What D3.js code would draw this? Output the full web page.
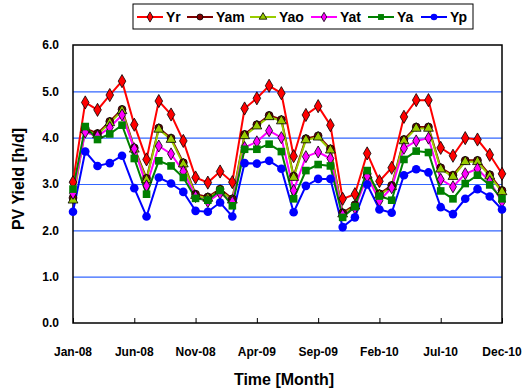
<!DOCTYPE html>
<html>
<head>
<meta charset="utf-8">
<script src="https://cdn.jsdelivr.net/npm/d3@7"></script>
<style>
  body { margin: 0; background: #fff; }
  text { font-family: Arial, "Liberation Sans", sans-serif; font-weight: bold; }
</style>
</head>
<body>
<svg id="chart" width="531" height="390"></svg>
<script>
// months Jan-08 .. Dec-10
const fmt = d3.timeFormat("%b-%y");
const months = d3.range(36).map(i => fmt(new Date(2008, i, 1)));
const tickLabels = ["Jan-08", "Jun-08", "Nov-08", "Apr-09", "Sep-09", "Feb-10", "Jul-10", "Dec-10"];
const yTicks = [0, 1, 2, 3, 4, 5, 6];

const Yr = [3.04, 4.76, 4.60, 4.92, 5.22, 4.28, 3.53, 4.79, 4.50, 3.93, 3.14, 3.03,
  3.27, 3.04, 4.63, 4.85, 5.12, 4.96, 3.60, 4.49, 4.68, 4.27, 2.68, 2.78,
  3.66, 3.06, 3.35, 4.45, 4.81, 4.81, 3.78, 3.61, 3.99, 3.96, 3.63, 3.22];
const Yam = [2.70, 4.20, 4.09, 4.35, 4.61, 3.78, 3.12, 4.21, 3.99, 3.46, 2.78, 2.72,
  2.89, 2.68, 4.07, 4.28, 4.48, 4.39, 3.17, 3.98, 4.04, 3.76, 2.38, 2.55,
  3.22, 2.79, 2.97, 3.96, 4.23, 4.23, 3.35, 3.19, 3.51, 3.51, 3.20, 2.86];
const Yao = [2.65, 4.17, 4.06, 4.32, 4.58, 3.75, 3.09, 4.18, 3.96, 3.43, 2.75, 2.69,
  2.86, 2.65, 4.04, 4.25, 4.45, 4.36, 3.14, 3.95, 4.01, 3.73, 2.35, 2.52,
  3.19, 2.76, 2.94, 3.93, 4.20, 4.20, 3.32, 3.16, 3.48, 3.48, 3.17, 2.83];
const Yat = [2.80, 4.12, 4.03, 4.22, 4.49, 3.76, 2.96, 3.82, 3.65, 3.27, 2.73, 2.62,
  2.80, 2.61, 3.79, 3.91, 4.15, 4.00, 2.86, 3.59, 3.69, 3.55, 2.33, 2.48,
  3.17, 2.64, 2.92, 3.77, 3.93, 3.99, 3.10, 2.94, 3.22, 3.33, 3.05, 2.62];
const Ya = [2.89, 4.24, 3.96, 4.08, 4.27, 3.55, 2.78, 3.50, 3.39, 3.14, 2.69, 2.65,
  2.86, 2.53, 3.75, 3.75, 3.86, 3.70, 2.68, 3.29, 3.42, 3.39, 2.28, 2.51,
  3.29, 2.74, 2.65, 3.53, 3.71, 3.68, 2.85, 2.68, 3.01, 3.19, 2.98, 2.68];
const Yp = [2.40, 3.70, 3.39, 3.45, 3.61, 2.91, 2.30, 3.14, 3.01, 2.83, 2.42, 2.40,
  2.60, 2.30, 3.45, 3.44, 3.50, 3.33, 2.39, 2.96, 3.11, 3.11, 2.07, 2.28,
  2.99, 2.45, 2.38, 3.19, 3.32, 3.25, 2.50, 2.35, 2.68, 2.89, 2.73, 2.45];

const series = [
  { name: "Yr", values: Yr, line: "#ff0000", fill: "#ff0000", stroke: "#000", shape: d3.symbolDiamond, size: 50 },
  { name: "Yam", values: Yam, line: "#800000", fill: "#800000", stroke: "#000", shape: d3.symbolCircle, size: 48 },
  { name: "Yao", values: Yao, line: "#99cc00", fill: "#99cc00", stroke: "#000", shape: d3.symbolTriangle, size: 42 },
  { name: "Yat", values: Yat, line: "#ff00ff", fill: "#ff00ff", stroke: "#000", shape: d3.symbolDiamond, size: 42 },
  { name: "Ya", values: Ya, line: "#008000", fill: "#008000", stroke: "none", shape: d3.symbolSquare, size: 58 },
  { name: "Yp", values: Yp, line: "#0000ff", fill: "#0000ff", stroke: "none", shape: d3.symbolCircle, size: 58 }
];

const svg = d3.select("#chart");
const pLeft = 73, pRight = 502, pTop = 45, pBottom = 323;

const x = d3.scalePoint().domain(months).range([pLeft, pRight]);
const y = d3.scaleLinear().domain([0, 6]).range([pBottom, pTop]);

// gridlines
svg.append("g")
  .attr("transform", "translate(" + pLeft + ",0)")
  .call(d3.axisLeft(y).tickValues(yTicks.slice(1, -1)).tickSize(-(pRight - pLeft)).tickFormat(""))
  .call(g => g.select(".domain").remove())
  .selectAll("line").attr("stroke", "#3366ff").attr("stroke-width", 1.2);

// y labels
svg.append("g")
  .attr("transform", "translate(" + pLeft + ",0)")
  .call(d3.axisLeft(y).tickValues(yTicks).tickSize(0).tickPadding(14).tickFormat(d3.format(".1f")))
  .call(g => g.select(".domain").remove())
  .selectAll("text").attr("font-size", 12).attr("fill", "#000").style("font-weight", "bold");

// plot frame
svg.append("rect")
  .attr("x", pLeft).attr("y", pTop)
  .attr("width", pRight - pLeft).attr("height", pBottom - pTop)
  .attr("fill", "none").attr("stroke", "#000").attr("stroke-width", 1.5);

// x axis
const xAxis = svg.append("g")
  .attr("transform", "translate(0," + pBottom + ")")
  .call(d3.axisTop(x).tickValues(tickLabels).tickSize(5).tickFormat(""));
xAxis.select(".domain").remove();
xAxis.selectAll("line").attr("stroke", "#000");

svg.append("g").selectAll("text")
  .data(tickLabels)
  .enter().append("text")
  .attr("x", d => x(d))
  .attr("y", 356)
  .attr("text-anchor", "middle")
  .attr("font-size", 12)
  .text(d => d);

// lines & markers
const line = d3.line().x((d, i) => x(months[i])).y(d => y(d));

series.forEach(s => {
  svg.append("path")
    .datum(s.values)
    .attr("fill", "none")
    .attr("stroke", s.line)
    .attr("stroke-width", 2)
    .attr("d", line);
});
series.forEach(s => {
  svg.append("g").selectAll("path")
    .data(s.values)
    .enter().append("path")
    .attr("transform", (d, i) => "translate(" + x(months[i]) + "," + y(d) + ")")
    .attr("d", d3.symbol().type(s.shape).size(s.size))
    .attr("fill", s.fill)
    .attr("stroke", s.stroke)
    .attr("stroke-width", 0.8);
});

// axis titles
svg.append("text")
  .attr("x", 284).attr("y", 385)
  .attr("text-anchor", "middle")
  .attr("font-size", 16)
  .text("Time [Month]");

svg.append("text")
  .attr("transform", "translate(24,179) rotate(-90)")
  .attr("text-anchor", "middle")
  .attr("font-size", 16)
  .text("PV Yield [h/d]");

// legend
const legend = svg.append("g");
legend.append("rect")
  .attr("x", 133).attr("y", 4)
  .attr("width", 340).attr("height", 25)
  .attr("fill", "#fff").attr("stroke", "#000").attr("stroke-width", 1);

const legX = [137, 187, 250, 311, 368, 421];
series.forEach((s, i) => {
  const g = legend.append("g").attr("transform", "translate(" + legX[i] + ",17)");
  g.append("line").attr("x1", 0).attr("x2", 26).attr("stroke", s.line).attr("stroke-width", 2);
  g.append("path")
    .attr("transform", "translate(13,0)")
    .attr("d", d3.symbol().type(s.shape).size(s.size * 0.6))
    .attr("fill", s.fill).attr("stroke", s.stroke).attr("stroke-width", 0.8);
  g.append("text").attr("x", 29).attr("y", 5).attr("font-size", 14).text(s.name);
});
</script>
</body>
</html>
